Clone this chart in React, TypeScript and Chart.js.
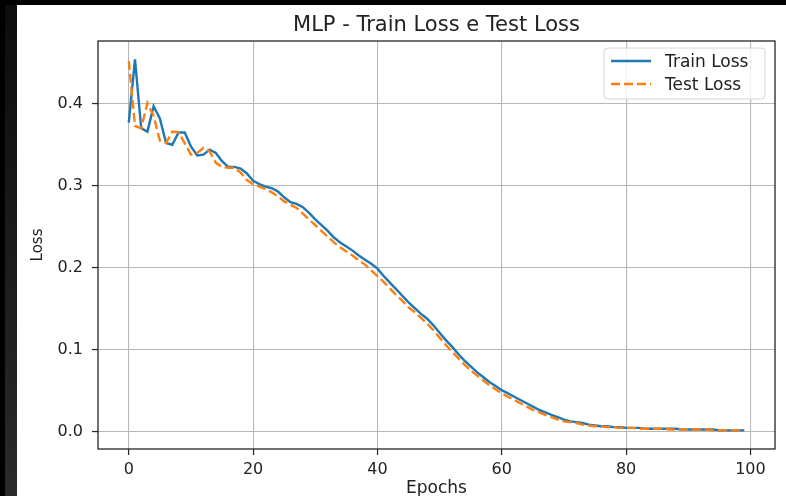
import { useEffect, useRef } from "react";
import { Chart, registerables } from "chart.js";

Chart.register(...registerables);

const chartTitle = "MLP - Train Loss e Test Loss";
const xAxisLabel = "Epochs";
const yAxisLabel = "Loss";
const seriesLabels = ["Train Loss", "Test Loss"];

const epochs = Array.from({ length: 100 }, (_, i) => i);

const trainLoss = [
  0.377, 0.454, 0.370, 0.366, 0.397, 0.382, 0.352, 0.350, 0.365, 0.365,
  0.348, 0.337, 0.338, 0.344, 0.340, 0.330, 0.323, 0.323, 0.321, 0.315,
  0.306, 0.302, 0.299, 0.297, 0.293, 0.286, 0.280, 0.278, 0.274, 0.267,
  0.259, 0.252, 0.245, 0.237, 0.231, 0.226, 0.221, 0.215, 0.210, 0.205,
  0.199, 0.190, 0.182, 0.174, 0.166, 0.158, 0.151, 0.144, 0.138, 0.130,
  0.121, 0.112, 0.104, 0.095, 0.087, 0.080, 0.073, 0.067, 0.061, 0.056,
  0.051, 0.047, 0.043, 0.039, 0.035, 0.031, 0.027, 0.024, 0.021, 0.018,
  0.015, 0.013, 0.012, 0.011, 0.009, 0.008, 0.007, 0.007, 0.006, 0.006,
  0.005, 0.005, 0.005, 0.004, 0.004, 0.004, 0.004, 0.004, 0.004, 0.003,
  0.003, 0.003, 0.003, 0.003, 0.003, 0.002, 0.002, 0.002, 0.002, 0.002,
];

const testLoss = [
  0.452, 0.373, 0.370, 0.401, 0.385, 0.355, 0.352, 0.366, 0.365, 0.352,
  0.338, 0.340, 0.346, 0.342, 0.328, 0.323, 0.322, 0.322, 0.316, 0.307,
  0.302, 0.299, 0.296, 0.292, 0.287, 0.281, 0.277, 0.273, 0.266, 0.259,
  0.252, 0.245, 0.238, 0.231, 0.225, 0.220, 0.215, 0.209, 0.204, 0.197,
  0.190, 0.183, 0.175, 0.167, 0.160, 0.152, 0.146, 0.139, 0.132, 0.124,
  0.115, 0.106, 0.098, 0.090, 0.082, 0.075, 0.069, 0.063, 0.057, 0.052,
  0.047, 0.043, 0.039, 0.035, 0.031, 0.027, 0.024, 0.021, 0.018, 0.015,
  0.013, 0.012, 0.011, 0.009, 0.008, 0.007, 0.007, 0.006, 0.006, 0.005,
  0.005, 0.005, 0.004, 0.004, 0.004, 0.004, 0.004, 0.003, 0.003, 0.003,
  0.003, 0.003, 0.003, 0.003, 0.002, 0.002, 0.002, 0.002, 0.002, 0.002,
];

const FONT = "'DejaVu Sans', sans-serif";
const TEXT = "#222222";
const BLUE = "#1f77b4";
const ORANGE = "#ff7f0e";

const backgroundPlugin = {
  id: "bg",
  beforeDraw(chart: any) {
    const { ctx, width, height } = chart;
    ctx.save();
    ctx.fillStyle = "#ffffff";
    ctx.fillRect(0, 0, width, height);
    const g = ctx.createLinearGradient(0, 0, 0, height);
    g.addColorStop(0, "#0c0c0c");
    g.addColorStop(1, "#2a2a2a");
    ctx.fillStyle = g;
    ctx.fillRect(0, 0, 17, height);
    ctx.fillStyle = "#000000";
    ctx.fillRect(0, 0, 5, height);
    ctx.fillRect(0, 0, width, 5);
    ctx.restore();
  },
};

const framePlugin = {
  id: "frameLegend",
  afterDraw(chart: any) {
    const { ctx, chartArea } = chart;
    ctx.save();
    ctx.strokeStyle = "#262626";
    ctx.lineWidth = 1.3;
    ctx.setLineDash([]);
    ctx.strokeRect(chartArea.left, chartArea.top, chartArea.right - chartArea.left, chartArea.bottom - chartArea.top);

    // legend box
    const x0 = chartArea.right - 171;
    const y0 = chartArea.top + 7;
    const w = 161;
    const h = 51;
    const r = 4;
    ctx.beginPath();
    ctx.moveTo(x0 + r, y0);
    ctx.lineTo(x0 + w - r, y0);
    ctx.arcTo(x0 + w, y0, x0 + w, y0 + r, r);
    ctx.lineTo(x0 + w, y0 + h - r);
    ctx.arcTo(x0 + w, y0 + h, x0 + w - r, y0 + h, r);
    ctx.lineTo(x0 + r, y0 + h);
    ctx.arcTo(x0, y0 + h, x0, y0 + h - r, r);
    ctx.lineTo(x0, y0 + r);
    ctx.arcTo(x0, y0, x0 + r, y0, r);
    ctx.closePath();
    ctx.fillStyle = "rgba(255,255,255,0.8)";
    ctx.fill();
    ctx.strokeStyle = "#d6d6d6";
    ctx.lineWidth = 1;
    ctx.stroke();

    chart.data.datasets.forEach((ds: any, i: number) => {
      const y = y0 + 13 + i * 23;
      ctx.beginPath();
      ctx.strokeStyle = ds.borderColor;
      ctx.lineWidth = ds.borderWidth;
      ctx.setLineDash(ds.borderDash || []);
      ctx.lineCap = "butt";
      ctx.moveTo(x0 + 7, y);
      ctx.lineTo(x0 + 47, y);
      ctx.stroke();
      ctx.setLineDash([]);
      ctx.fillStyle = TEXT;
      ctx.font = `17px ${FONT}`;
      ctx.textBaseline = "middle";
      ctx.textAlign = "left";
      ctx.fillText(ds.label, x0 + 61, y + 1.5);
    });
    ctx.restore();
  },
};

export default function App() {
  const ref = useRef<HTMLCanvasElement | null>(null);

  useEffect(() => {
    if (!ref.current) return;
    const chart = new Chart(ref.current, {
      type: "line",
      data: {
        datasets: [
          {
            label: seriesLabels[0],
            data: epochs.map((e, i) => ({ x: e, y: trainLoss[i] })),
            borderColor: BLUE,
            backgroundColor: BLUE,
            borderWidth: 2.4,
            pointRadius: 0,
            tension: 0,
            fill: false,
            order: 1,
          },
          {
            label: seriesLabels[1],
            data: epochs.map((e, i) => ({ x: e, y: testLoss[i] })),
            borderColor: ORANGE,
            backgroundColor: ORANGE,
            borderWidth: 2.4,
            borderDash: [9, 4],
            pointRadius: 0,
            tension: 0,
            fill: false,
            order: 0,
          },
        ],
      },
      options: {
        responsive: false,
        animation: false,
        layout: { padding: { left: 0, right: 11, top: 0, bottom: 0 } },
        plugins: {
          legend: { display: false },
          tooltip: { enabled: false },
          title: {
            display: true,
            text: chartTitle,
            fullSize: false,
            color: TEXT,
            font: { family: FONT, size: 21, weight: "normal" },
            padding: { top: 13, bottom: 2.8 },
          },
        },
        scales: {
          x: {
            type: "linear",
            min: -4.95,
            max: 103.95,
            afterFit: (s: any) => {
              s.height = 47;
            },
            border: { display: false },
            grid: {
              color: "#b8b8b8",
              lineWidth: 1.1,
              tickColor: "#262626",
              tickLength: 6,
              tickWidth: 1.2,
            },
            ticks: {
              stepSize: 20,
              includeBounds: false,
              autoSkip: false,
              maxRotation: 0,
              color: TEXT,
              padding: 5,
              font: { family: FONT, size: 16 },
              callback: (v: any) => String(v),
            },
            title: {
              display: true,
              text: xAxisLabel,
              color: TEXT,
              font: { family: FONT, size: 17, lineHeight: 1 },
              padding: { top: 0, bottom: -1 },
            },
          },
          y: {
            type: "linear",
            min: -0.0207,
            max: 0.4764,
            afterFit: (s: any) => {
              s.width = 98;
            },
            border: { display: false },
            grid: {
              color: "#b8b8b8",
              lineWidth: 1.1,
              tickColor: "#262626",
              tickLength: 6,
              tickWidth: 1.2,
            },
            ticks: {
              stepSize: 0.1,
              includeBounds: false,
              autoSkip: false,
              color: TEXT,
              padding: 9,
              font: { family: FONT, size: 16 },
              callback: (v: any) => Number(v).toFixed(1),
            },
            title: {
              display: true,
              text: yAxisLabel,
              color: TEXT,
              font: { family: FONT, size: 15 },
              padding: { top: 29, bottom: 0 },
            },
          },
        },
      },
      plugins: [backgroundPlugin, framePlugin],
    });
    return () => chart.destroy();
  }, []);

  return (
    <div style={{ position: "absolute", left: 0, top: 0, width: 786, height: 496 }}>
      <canvas ref={ref} width={786} height={496} style={{ display: "block" }} />
    </div>
  );
}
